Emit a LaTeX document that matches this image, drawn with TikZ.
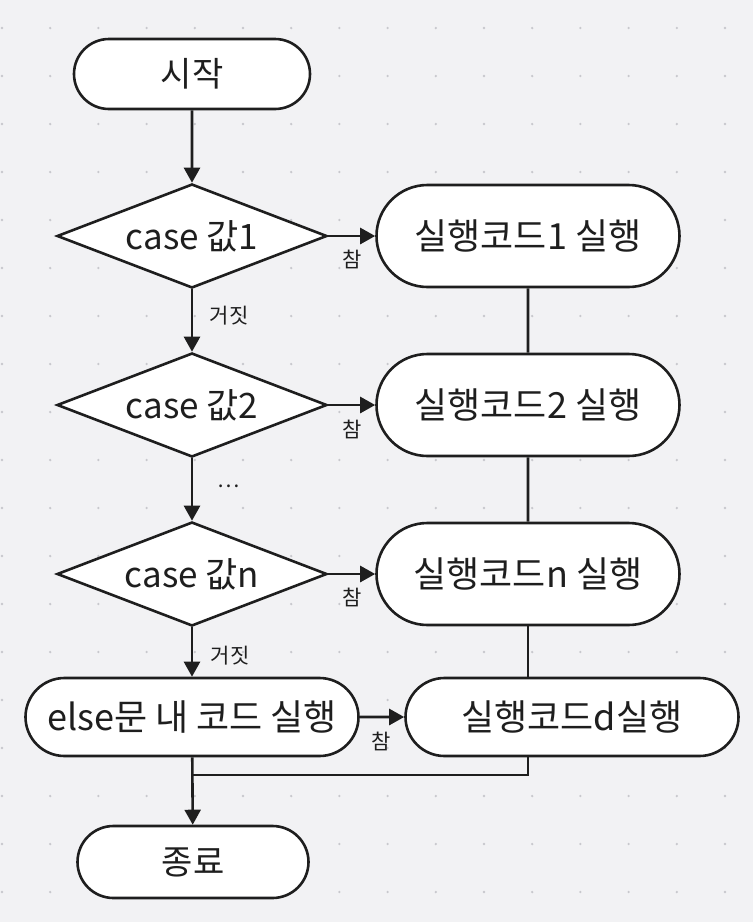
\documentclass[tikz,border=0pt]{standalone}
\usepackage{fontspec}
\setmainfont{Noto Sans CJK KR}
\usetikzlibrary{shapes.misc,shapes.geometric,arrows.meta}
\definecolor{bgc}{HTML}{F2F2F4}
\definecolor{dotc}{HTML}{C8C8CD}
\definecolor{inkc}{HTML}{1E1E1E}
\begin{document}
\begin{tikzpicture}[x=1pt,y=-1pt,
  term/.style={rounded rectangle, draw=inkc, line width=2.6pt, fill=white, inner sep=0pt, font=\fontsize{36}{42}\selectfont, text=inkc},
  dec/.style={diamond, draw=inkc, line width=2.6pt, fill=white, inner sep=0pt, aspect=2.6, minimum width=270pt, minimum height=104pt, font=\fontsize{35}{42}\selectfont, text=inkc},
  conn/.style={draw=inkc, line width=2.6pt},
  arr/.style={conn, -{Triangle[length=15pt,width=16pt]}},
  lbl/.style={font=\fontsize{21}{24}\selectfont, text=inkc, inner sep=0pt}
]
\fill[bgc] (0,0) rectangle (753,922);
\useasboundingbox (0,0) rectangle (753,922);
\foreach \i in {0,...,15}{\foreach \j in {0,...,18}{
  \fill[dotc] ({2+48.2*\i},{28+48*\j}) circle (1.3pt);}}

\node[term, minimum width=236pt, minimum height=70pt, font=\fontsize{34}{40}\selectfont] (start) at (192,74) {시작};
\node[dec] (d1) at (192,236) {case 값1};
\node[dec] (d2) at (192,405) {case 값2};
\node[dec] (dn) at (192,574) {case 값n};
\node[term, minimum width=303pt, minimum height=102pt] (b1) at (528,236) {실행코드1 실행};
\node[term, minimum width=303pt, minimum height=102pt] (b2) at (528,405) {실행코드2 실행};
\node[term, minimum width=303pt, minimum height=102pt] (bn) at (528,574) {실행코드n 실행};
\node[term, minimum width=333pt, minimum height=78pt] (else) at (192,717) {else문 내 코드 실행};
\node[term, minimum width=333pt, minimum height=78pt] (bd) at (572,717) {실행코드d실행};
\node[term, minimum width=231pt, minimum height=72pt, font=\fontsize{34}{40}\selectfont] (end) at (193,862) {종료};

\draw[arr] (start) -- (d1);
\draw[arr] (d1) -- (d2);
\draw[arr] (d2) -- (dn);
\draw[arr] (dn) -- (else);
\draw[arr] (d1) -- (b1);
\draw[arr] (d2) -- (b2);
\draw[arr] (dn) -- (bn);
\draw[arr] (else) -- (bd);
\draw[conn] (b1) -- (b2);
\draw[conn] (b2) -- (bn);
\draw[conn] (bn.south) -- (bn.south |- bd.north);
\coordinate (j) at (192,775);
\draw[conn] (bn.south |- bd.south) -- (bn.south |- j) -- (j);
\draw[arr] (else) -- (end);

\node[lbl] (t1) at (352,259) {참};
\node[lbl] (t2) at (352,429) {참};
\node[lbl] (t3) at (352,597) {참};
\node[lbl] (t4) at (381,741) {참};
\node[lbl] (f1) at (229,316) {거짓};
\node[lbl] (f2) at (230,656) {거짓};
\node[lbl] (dots) at (229,486) {…};
\end{tikzpicture}
\end{document}
